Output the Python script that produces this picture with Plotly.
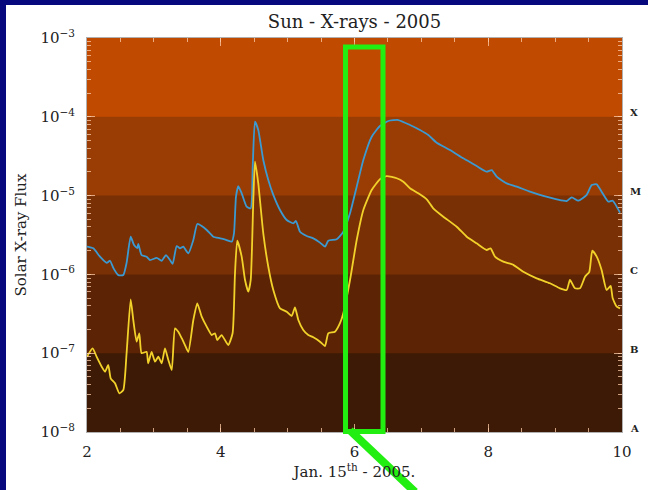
import plotly.graph_objects as go
import math

# ---------------- data ----------------
# long-wave channel (blue), day of Jan 2005 vs flux [W/m^2]
blue_x = [2.00, 2.094, 2.194, 2.295, 2.344, 2.393, 2.468, 2.543, 2.592, 2.653,
          2.703, 2.752, 2.767, 2.816, 2.891, 2.942, 3.042, 3.117, 3.181, 3.241,
          3.281, 3.341, 3.391, 3.440, 3.515, 3.590, 3.649, 3.715, 3.790, 3.889,
          3.989, 4.089, 4.164, 4.198, 4.228, 4.262, 4.313, 4.388, 4.448, 4.478,
          4.512, 4.561, 4.636, 4.711, 4.786, 4.886, 4.986, 5.085, 5.125, 5.185,
          5.285, 5.384, 5.484, 5.559, 5.608, 5.734, 5.833, 5.933, 6.033, 6.132,
          6.257, 6.381, 6.506, 6.655, 6.830, 6.979, 7.104, 7.229, 7.428, 7.627,
          7.827, 7.977, 8.052, 8.126, 8.276, 8.426, 8.624, 8.823, 9.024, 9.173,
          9.248, 9.347, 9.472, 9.547, 9.622, 9.695, 9.795, 9.861, 9.970]
blue_flux = [2.25e-6, 2.14e-6, 1.68e-6, 1.40e-6, 1.49e-6, 1.21e-6, 9.8e-7, 9.8e-7, 1.40e-6, 3.01e-6,
             2.36e-6, 2.16e-6, 2.43e-6, 1.76e-6, 1.68e-6, 1.52e-6, 1.62e-6, 1.49e-6, 1.76e-6, 1.52e-6,
             1.36e-6, 2.29e-6, 2.14e-6, 2.25e-6, 1.85e-6, 2.73e-6, 4.36e-6, 4.11e-6, 3.66e-6, 3.01e-6,
             2.87e-6, 2.73e-6, 2.60e-6, 3.32e-6, 9.7e-6, 1.32e-5, 1.07e-5, 7.23e-6, 6.90e-6, 2.33e-5,
             8.67e-5, 6.80e-5, 2.83e-5, 1.58e-5, 1.02e-5, 6.57e-6, 4.90e-6, 4.45e-6, 4.76e-6, 3.48e-6,
             3.07e-6, 2.87e-6, 2.53e-6, 2.25e-6, 2.68e-6, 2.79e-6, 3.48e-6, 5.96e-6, 1.30e-5, 2.83e-5,
             5.59e-5, 7.64e-5, 8.85e-5, 9.10e-5, 7.87e-5, 6.80e-5, 5.87e-5, 4.69e-5, 3.79e-5, 2.97e-5,
             2.37e-5, 2.01e-5, 2.11e-5, 1.74e-5, 1.43e-5, 1.30e-5, 1.12e-5, 9.9e-6, 8.98e-6, 8.54e-6,
             9.5e-6, 8.61e-6, 1.02e-5, 1.36e-5, 1.39e-5, 1.12e-5, 8.37e-6, 8.61e-6, 6.07e-6]

# short-wave channel (yellow)
yellow_x = [2.00, 2.084, 2.144, 2.220, 2.269, 2.318, 2.354, 2.419, 2.483, 2.543,
            2.592, 2.653, 2.692, 2.742, 2.782, 2.816, 2.891, 2.915, 2.966, 3.017,
            3.066, 3.117, 3.166, 3.216, 3.267, 3.316, 3.365, 3.416, 3.465, 3.515,
            3.590, 3.649, 3.715, 3.790, 3.865, 3.914, 3.948, 4.013, 4.112, 4.177,
            4.213, 4.247, 4.313, 4.363, 4.412, 4.448, 4.487, 4.512, 4.561, 4.636,
            4.711, 4.786, 4.886, 4.986, 5.061, 5.110, 5.160, 5.234, 5.309, 5.384,
            5.484, 5.559, 5.608, 5.708, 5.783, 5.833, 5.933, 6.033, 6.132, 6.257,
            6.381, 6.482, 6.631, 6.730, 6.830, 6.954, 7.080, 7.178, 7.328, 7.528,
            7.678, 7.826, 7.976, 8.035, 8.101, 8.225, 8.375, 8.524, 8.724, 8.923,
            9.072, 9.173, 9.222, 9.297, 9.372, 9.447, 9.511, 9.556, 9.622, 9.695,
            9.770, 9.830, 9.861, 9.921, 9.970]
yellow_flux = [9.03e-8, 1.15e-7, 9.03e-8, 6.74e-8, 5.82e-8, 7.08e-8, 4.80e-8, 4.15e-8, 3.10e-8, 3.41e-8,
               1.00e-7, 4.83e-7, 2.64e-7, 1.40e-7, 1.79e-7, 1.00e-7, 1.04e-7, 7.45e-8, 1.04e-7, 7.80e-8,
               9.03e-8, 7.45e-8, 1.15e-7, 8.20e-8, 6.12e-8, 2.07e-7, 1.87e-7, 1.55e-7, 1.27e-7, 1.04e-7,
               2.64e-7, 4.30e-7, 2.91e-7, 2.17e-7, 1.70e-7, 1.79e-7, 1.47e-7, 1.70e-7, 1.27e-7, 1.79e-7,
               1.03e-6, 2.68e-6, 1.68e-6, 8.49e-7, 6.03e-7, 8.49e-7, 8.79e-6, 2.69e-5, 1.43e-5, 3.32e-6,
               1.25e-6, 6.34e-7, 3.71e-7, 3.36e-7, 2.97e-7, 3.82e-7, 2.64e-7, 1.97e-7, 1.70e-7, 1.59e-7,
               1.40e-7, 1.23e-7, 1.79e-7, 1.87e-7, 2.40e-7, 3.21e-7, 8.49e-7, 2.73e-6, 6.57e-6, 1.18e-5,
               1.61e-5, 1.77e-5, 1.66e-5, 1.50e-5, 1.24e-5, 1.07e-5, 8.98e-6, 6.90e-6, 5.40e-6, 4.03e-6,
               3.01e-6, 2.48e-6, 2.04e-6, 2.14e-6, 1.68e-6, 1.45e-6, 1.32e-6, 1.08e-6, 8.92e-7, 7.71e-7,
               6.66e-7, 6.34e-7, 8.49e-7, 6.66e-7, 6.66e-7, 9.35e-7, 1.08e-6, 2.00e-6, 1.68e-6, 1.14e-6,
               6.34e-7, 7.13e-7, 4.97e-7, 3.89e-7, 3.71e-7]

# flare classes and their lower flux thresholds
flare_classes = ["A", "B", "C", "M", "X"]
class_levels = [1e-8, 1e-7, 1e-6, 1e-5, 1e-4]
band_colors = ["#3d1a05", "#5c2405", "#7a3005", "#9a3d05", "#c04b00"]
flux_top = 1e-3

x_ticks = [2, 4, 6, 8, 10]
y_ticks = [1e-8, 1e-7, 1e-6, 1e-5, 1e-4, 1e-3]
y_ticktext = ["10<sup>−8</sup>", "10<sup>−7</sup>", "10<sup>−6</sup>",
              "10<sup>−5</sup>", "10<sup>−4</sup>", "10<sup>−3</sup>"]

SERIF = "DejaVu Serif"
TICKC = "rgba(255,205,170,0.75)"
NAVY = "#07077e"

fig = go.Figure()
fig.add_trace(go.Scatter(x=blue_x, y=blue_flux, mode="lines",
                         line=dict(color="#3b9ad2", width=1.8, shape="spline", smoothing=0.5),
                         showlegend=False))
fig.add_trace(go.Scatter(x=yellow_x, y=yellow_flux, mode="lines",
                         line=dict(color="#f2d22a", width=1.8, shape="spline", smoothing=0.5),
                         showlegend=False))

shapes = []
# navy slide border strips (left and top)
shapes.append(dict(type="rect", xref="paper", yref="paper",
                   x0=-0.3, x1=-0.1514, y0=-0.3, y1=1.3,
                   fillcolor=NAVY, line=dict(width=0), layer="below"))
shapes.append(dict(type="rect", xref="paper", yref="paper",
                   x0=-0.3, x1=1.3, y0=1.0838, y1=1.3,
                   fillcolor=NAVY, line=dict(width=0), layer="below"))
# flare class bands (each drawn from its threshold to the top, stacked so no seams)
for lo, c in zip(class_levels, band_colors):
    shapes.append(dict(type="rect", xref="paper", yref="y", x0=0, x1=1, y0=lo, y1=flux_top,
                       fillcolor=c, line=dict(width=0), layer="below"))
# green highlight box and pointer
shapes.append(dict(type="rect", xref="paper", yref="paper",
                   x0=0.4832, x1=0.5533, y0=0.001, y1=0.977,
                   line=dict(color="#22ee11", width=5), fillcolor="rgba(0,0,0,0)", layer="above"))
shapes.append(dict(type="line", xref="paper", yref="paper",
                   x0=0.4916, y0=0.004, x1=0.6131, y1=-0.1523,
                   line=dict(color="#22ee11", width=8), layer="above"))

annotations = []
for name, lvl in zip(flare_classes, class_levels):
    annotations.append(dict(text="<b>" + name + "</b>", xref="paper", yref="y", x=1.011,
                            y=math.log10(lvl), xanchor="left", yanchor="middle", yshift=4,
                            showarrow=False,
                            font=dict(family=SERIF, size=10, color="#222")))

fig.update_layout(
    width=648, height=490,
    margin=dict(l=87, r=26, t=38, b=58),
    paper_bgcolor="white",
    plot_bgcolor=band_colors[0],
    shapes=shapes,
    annotations=annotations,
    title=dict(text="Sun - X-rays - 2005", x=0.5, xref="paper", xanchor="center",
               y=1 - 22 / 490, yref="container", yanchor="middle",
               font=dict(family=SERIF, size=18, color="#222")),
    xaxis=dict(range=[2, 10], tickvals=x_ticks, ticks="inside", ticklen=8, tickwidth=1,
               tickcolor=TICKC, showgrid=False, zeroline=False,
               showline=True, linecolor="#b0b0b0", linewidth=1, mirror="ticks",
               minor=dict(dtick=0.5, ticks="inside", ticklen=4, tickcolor=TICKC),
               tickfont=dict(family=SERIF, size=15, color="#222"), ticklabelstandoff=6,
               title=dict(text="Jan. 15<sup>th</sup> - 2005.", standoff=2,
                          font=dict(family=SERIF, size=15, color="#222"))),
    yaxis=dict(type="log", range=[-8, -3], tickvals=y_ticks, ticktext=y_ticktext,
               ticks="inside", ticklen=8, tickwidth=1, tickcolor=TICKC,
               showgrid=False, zeroline=False,
               showline=True, linecolor="#b0b0b0", linewidth=1, mirror="ticks",
               minor=dict(dtick="D1", ticks="inside", ticklen=4, tickcolor=TICKC),
               tickfont=dict(family=SERIF, size=15, color="#222"), ticklabelstandoff=8,
               title=dict(text="Solar X-ray Flux", standoff=10,
                          font=dict(family=SERIF, size=15, color="#222"))),
)

fig.write_html("out.html")
